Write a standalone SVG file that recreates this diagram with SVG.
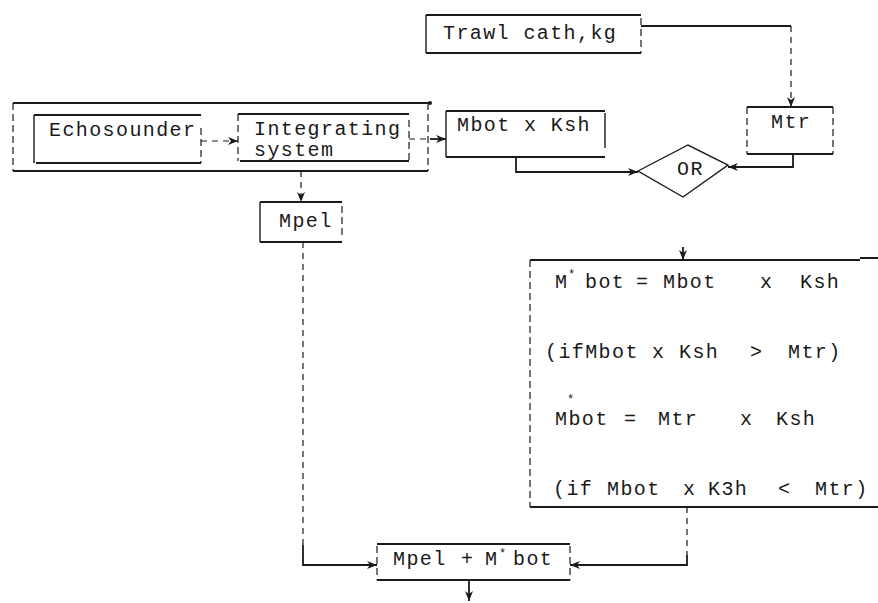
<svg xmlns="http://www.w3.org/2000/svg" width="878" height="603" viewBox="0 0 878 603">
  <style>
    .t{font-family:"Liberation Mono","Courier New",monospace;font-size:20px;letter-spacing:1.4px;fill:#1a1a1a}
    .sup{font-size:12px;letter-spacing:0}
    .h{stroke:#1a1a1a;stroke-width:2;fill:none}
    .v{stroke:#1a1a1a;stroke-width:1.2;stroke-dasharray:7 4;fill:none}
    .vs{stroke:#1a1a1a;stroke-width:1.4;fill:none}
    .c{stroke:#1a1a1a;stroke-width:1.8;fill:none}
    .cd{stroke:#1a1a1a;stroke-width:1.2;stroke-dasharray:6 5;fill:none}
  </style>
  <defs>
    <marker id="arr" markerUnits="userSpaceOnUse" markerWidth="10" markerHeight="8" refX="10" refY="4" orient="auto">
      <path d="M0,0 L10,4 L0,8 L3,4 z" fill="#1a1a1a"/>
    </marker>
  </defs>
  <rect width="878" height="603" fill="#ffffff"/>

  <!-- outer frame around the echosounder and integrating system -->
  <g id="frame">
    <path class="h" d="M13,103 H430"/>
    <path class="h" d="M13,171 H428"/>
    <path class="v" d="M13,103 V171"/>
    <path class="v" d="M428,103 V171"/>
    <circle cx="430" cy="103" r="2" fill="#1a1a1a"/>
  </g>

  <g id="echosounder">
    <path class="h" d="M34,115 H201"/>
    <path class="h" d="M36,163 H201"/>
    <path class="vs" d="M34,115 V163"/>
    <path class="v" d="M201,128 V163"/>
    <text class="t" x="49" y="136">Echosounder</text>
  </g>

  <g id="integrating">
    <path class="h" d="M238,114 H409"/>
    <path class="h" d="M240,161 H409"/>
    <path class="v" d="M238,114 V161"/>
    <path class="v" d="M409,120 V161"/>
    <text class="t" x="254" y="135">Integrating</text>
    <text class="t" x="254" y="156">system</text>
  </g>

  <g id="mpel">
    <path class="h" d="M260,202 H342"/>
    <path class="h" d="M260,242 H342"/>
    <path class="vs" d="M260,202 V242"/>
    <path class="v" d="M342,206 V238"/>
    <text class="t" x="279" y="227">Mpel</text>
  </g>

  <g id="trawl">
    <path class="h" d="M426,15 H641"/>
    <path class="h" d="M426,53 H641"/>
    <path class="vs" d="M426,15 V53"/>
    <path class="v" d="M641,18 V53"/>
    <text class="t" x="443" y="39">Trawl cath,kg</text>
  </g>

  <g id="mbot-ksh">
    <path class="h" d="M446,111 H605"/>
    <path class="h" d="M446,157 H605"/>
    <path class="vs" d="M446,111 V157"/>
    <path class="vs" d="M605,113 V148"/>
    <text class="t" x="457" y="131">Mbot x Ksh</text>
  </g>

  <g id="mtr">
    <path class="h" d="M747,107 H833"/>
    <path class="h" d="M747,154 H833"/>
    <path class="v" d="M747,107 V154"/>
    <path class="v" d="M833,107 V154"/>
    <text class="t" x="771" y="128">Mtr</text>
  </g>

  <g id="or">
    <polygon class="vs" points="638,171 688,145 728,165 683,197"/>
    <text class="t" x="677" y="175">OR</text>
  </g>

  <g id="formula">
    <path class="h" d="M530,260 H860 M860,258 H878"/>
    <path class="h" d="M530,507 H878"/>
    <path class="v" d="M530,260 V507"/>
    <text class="t" y="288"><tspan x="555">M</tspan><tspan class="sup" x="568" y="278">*</tspan><tspan x="585" y="288">bot</tspan><tspan x="636">=</tspan><tspan x="663">Mbot</tspan><tspan x="760">x</tspan><tspan x="800">Ksh</tspan></text>
    <text class="t" y="358"><tspan x="545">(ifMbot</tspan><tspan x="652">x</tspan><tspan x="679">Ksh</tspan><tspan x="750">&gt;</tspan><tspan x="788">Mtr)</tspan></text>
    <text class="t" y="425"><tspan x="555">Mbot</tspan><tspan class="sup" x="567" y="403">*</tspan><tspan x="624" y="425">=</tspan><tspan x="658">Mtr</tspan><tspan x="740">x</tspan><tspan x="776">Ksh</tspan></text>
    <text class="t" y="495"><tspan x="553">(if</tspan><tspan x="607">Mbot</tspan><tspan x="683">x</tspan><tspan x="708">K3h</tspan><tspan x="778">&lt;</tspan><tspan x="815">Mtr)</tspan></text>
  </g>

  <g id="sum">
    <path class="h" d="M377,544 H570"/>
    <path class="h" d="M377,580 H570"/>
    <path class="v" d="M377,546 V580"/>
    <path class="v" d="M570,546 V580"/>
    <text class="t" y="565"><tspan x="393">Mpel</tspan><tspan x="461">+</tspan><tspan x="485">M</tspan><tspan class="sup" x="499" y="557">*</tspan><tspan x="513" y="565">bot</tspan></text>
  </g>

  <g id="connectors">
    <path class="cd" d="M201,141 H238" marker-end="url(#arr)"/>
    <path class="cd" d="M409,139 H430"/>
    <path class="c" d="M430,139 H446" marker-end="url(#arr)"/>
    <path class="cd" d="M301,171 V202" marker-end="url(#arr)"/>
    <path class="c" d="M641,26 H791"/>
    <path class="cd" d="M791,26 V107" marker-end="url(#arr)"/>
    <path class="c" d="M516,157 V172 H638" marker-end="url(#arr)"/>
    <path class="c" d="M793,154 V167 H728" marker-end="url(#arr)"/>
    <path class="c" d="M683,247 V260" marker-end="url(#arr)"/>
    <path class="cd" d="M303,242 V545"/>
    <path class="c" d="M303,545 V565 H377" marker-end="url(#arr)"/>
    <path class="cd" d="M687,507 V555"/>
    <path class="c" d="M687,555 V565 H570" marker-end="url(#arr)"/>
    <path class="c" d="M469,580 V601" marker-end="url(#arr)"/>
  </g>
</svg>
